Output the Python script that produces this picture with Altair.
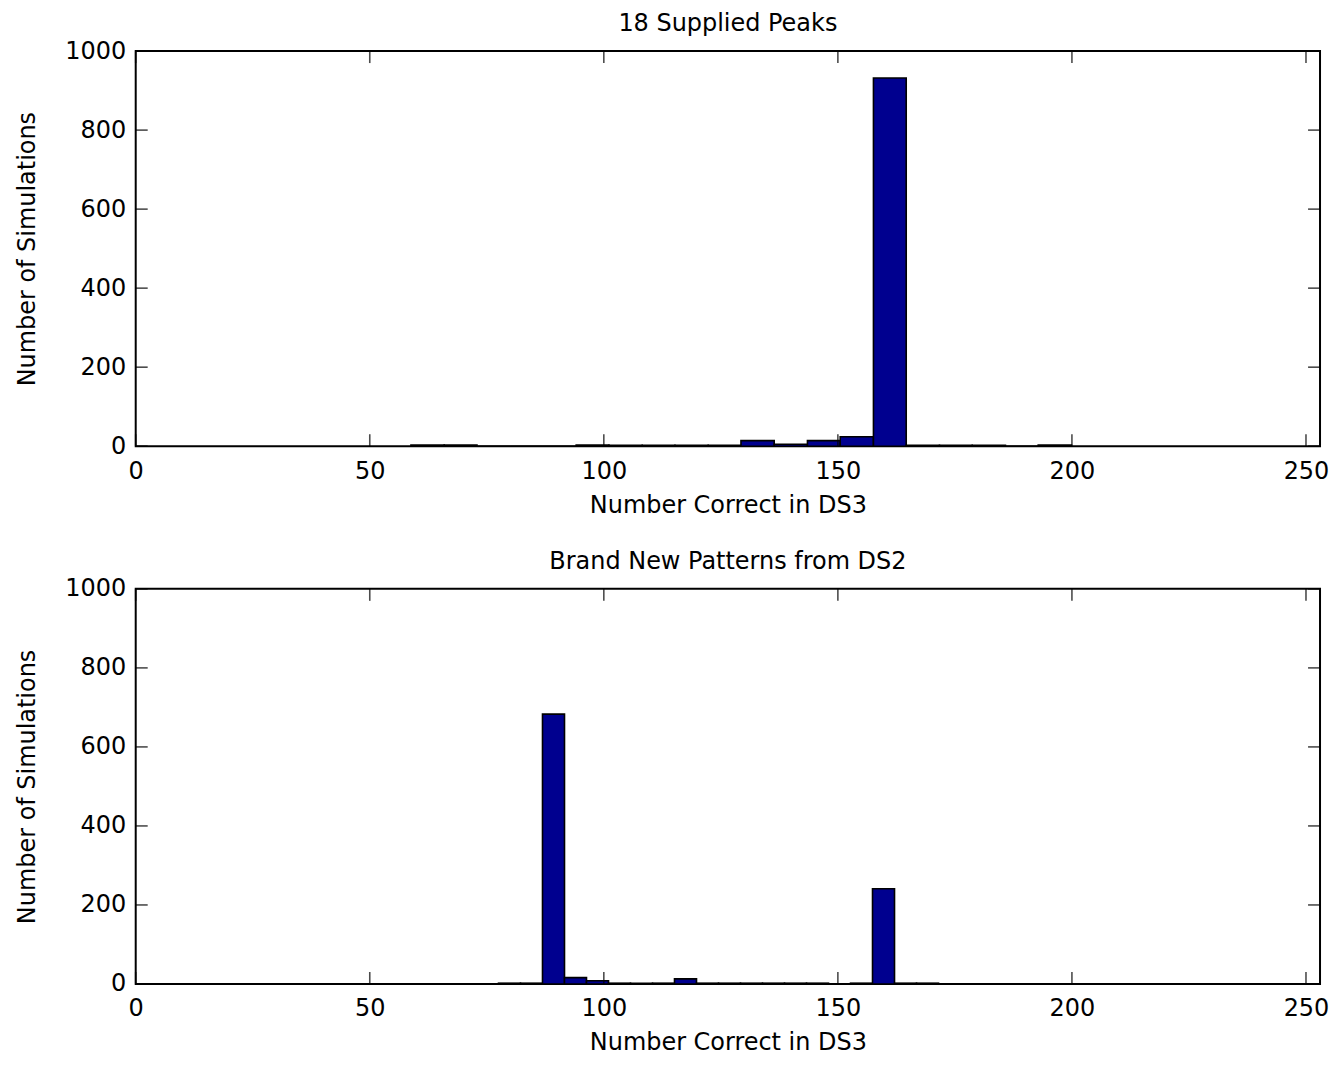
import altair as alt
import pandas as pd

# ---- data ----
TOP_TITLE = "18 Supplied Peaks"
BOTTOM_TITLE = "Brand New Patterns from DS2"
X_TITLE = "Number Correct in DS3"
Y_TITLE = "Number of Simulations"

top_edges = [58.8, 65.9, 72.9, 80.0, 87.0, 94.1, 101.1, 108.2, 115.2, 122.3, 129.3,
             136.4, 143.5, 150.5, 157.6, 164.6, 171.7, 178.7, 185.8, 192.8, 199.9]
top_counts = [3, 3, 0, 0, 0, 3, 2, 2, 2, 2, 14, 5, 14, 24, 932, 2, 2, 2, 0, 3]

bottom_edges = [77.5, 82.2, 86.9, 91.6, 96.3, 101.0, 105.7, 110.4, 115.1, 119.8, 124.5,
                129.2, 133.9, 138.6, 143.3, 148.0, 152.7, 157.4, 162.1, 166.8, 171.5]
bottom_counts = [2, 2, 683, 16, 8, 2, 2, 2, 13, 2, 2, 2, 2, 2, 2, 0, 2, 241, 2, 2]

x_ticks = [0, 50, 100, 150, 200, 250]
y_ticks = [0, 200, 400, 600, 800, 1000]
x_domain = [0, 253]
y_domain = [0, 1000]

W, H = 1187, 396
FONT = "DejaVu Sans"
FS = 24
BAR = "#00008F"
TL = 12  # inward tick length


def panel(edges, counts, title):
    df = pd.DataFrame({"start": edges[:-1], "end": edges[1:], "count": counts,
                       "zero": [0] * len(counts)})
    xs = alt.Scale(domain=x_domain, nice=False, zero=False)
    ys = alt.Scale(domain=y_domain, nice=False)
    xax = alt.Axis(values=x_ticks, title=X_TITLE, labelPadding=13,
                   titlePadding=10, labelFlush=False, format="d")
    yax = alt.Axis(values=y_ticks, title=Y_TITLE, labelPadding=10,
                   titlePadding=25, format="d")

    bars = alt.Chart(df).mark_rect(fill=BAR, stroke="black", strokeWidth=1.6).encode(
        x=alt.X("start:Q", scale=xs, axis=xax),
        x2="end:Q",
        y=alt.Y("count:Q", scale=ys, axis=yax),
        y2="zero:Q",
    )

    xt = pd.DataFrame({"start": x_ticks})
    yt = pd.DataFrame({"count": y_ticks})
    tick = dict(size=TL, thickness=1.6, color="black")
    xb = alt.Chart(xt).mark_tick(orient="vertical", **tick).encode(
        x=alt.X("start:Q", scale=xs, axis=xax), y=alt.value(H - TL / 2))
    xtop = alt.Chart(xt).mark_tick(orient="vertical", **tick).encode(
        x=alt.X("start:Q", scale=xs, axis=xax), y=alt.value(TL / 2))
    yl = alt.Chart(yt).mark_tick(orient="horizontal", **tick).encode(
        y=alt.Y("count:Q", scale=ys, axis=yax), x=alt.value(TL / 2))
    yr = alt.Chart(yt).mark_tick(orient="horizontal", **tick).encode(
        y=alt.Y("count:Q", scale=ys, axis=yax), x=alt.value(W - TL / 2))

    return alt.layer(bars, xb, xtop, yl, yr).properties(
        width=W, height=H,
        title=alt.TitleParams(title, font=FONT, fontSize=FS, fontWeight="normal",
                              color="black", offset=3),
    )


chart = alt.vconcat(
    panel(top_edges, top_counts, TOP_TITLE),
    panel(bottom_edges, bottom_counts, BOTTOM_TITLE),
    spacing=31,
).properties(
    padding={"left": 6, "top": 2, "right": 0, "bottom": 0},
).configure_view(
    stroke="black", strokeWidth=2
).configure_axis(
    grid=False, tickSize=0, domain=False,
    labelFont=FONT, labelFontSize=FS, labelColor="black",
    titleFont=FONT, titleFontSize=FS, titleColor="black", titleFontWeight="normal",
).configure_title(
    anchor="middle"
)

chart.save("out.html", embed_options={"renderer": "svg", "actions": False})
